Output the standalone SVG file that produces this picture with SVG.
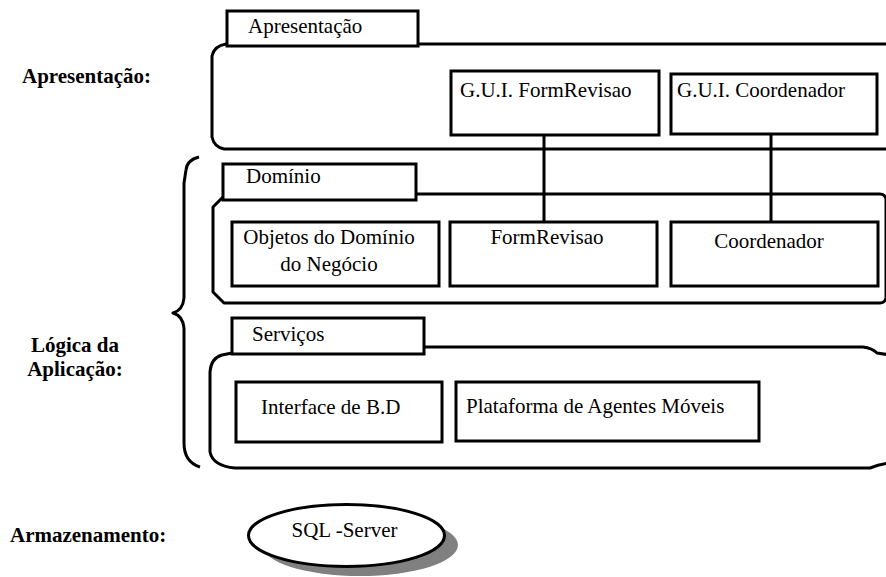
<svg xmlns="http://www.w3.org/2000/svg" width="886" height="577" viewBox="0 0 886 577">
<style>
.ln{fill:none;stroke:#000;stroke-width:3;stroke-linejoin:round}
.bx{fill:#fff;stroke:#000;stroke-width:3}
.t{font-family:"Liberation Serif","Times New Roman",serif;font-size:21px;fill:#000}
.b{font-family:"Liberation Serif","Times New Roman",serif;font-size:21px;font-weight:bold;fill:#000}
</style>
<rect width="886" height="577" fill="#fff"/>
<g id="labels">
<text class="b" x="22" y="83">Apresentação:</text>
<text class="b" x="75" y="352" text-anchor="middle">Lógica da</text>
<text class="b" x="75" y="376" text-anchor="middle">Aplicação:</text>
<text class="b" x="10" y="542">Armazenamento:</text>
</g>
<g id="brace">
<path class="ln" d="M199,157 Q187,160 186,170 L184,183 V298 Q183,310 173,313 Q183,316 184,328 V443 Q184,462 200,467"/>
</g>
<g id="layer-apresentacao">
<path class="ln" d="M890,44 H226 Q214,46 212,56 V137 Q214,147 224,149 H890"/>
<rect class="bx" x="227" y="11" width="191" height="35"/>
<text class="t" x="248" y="33">Apresentação</text>
</g>
<g id="layer-dominio">
<path class="ln" d="M416,194 H880 Q885,194 886,199 V298 Q885,303 880,303 H224 L213,292 V207 L223,197"/>
<rect class="bx" x="223" y="164" width="193" height="36"/>
<text class="t" x="246" y="183">Domínio</text>
</g>
<g id="layer-servicos">
<path class="ln" d="M424,347 H863 Q872,348 877,353 L890,355 M890,463 Q880,464 870,468 H235 Q213,466 210,452 V372 Q211,358 222,355 L232,353"/>
<rect class="bx" x="232" y="318" width="192" height="36"/>
<text class="t" x="252" y="341">Serviços</text>
</g>
<g id="connectors">
<line class="ln" x1="544" y1="135" x2="544" y2="222"/>
<line class="ln" x1="771" y1="134" x2="771" y2="222"/>
</g>
<g id="gui-formrevisao">
<rect class="bx" x="451" y="71" width="208" height="64"/>
<text class="t" x="460" y="97">G.U.I. FormRevisao</text>
</g>
<g id="gui-coordenador">
<rect class="bx" x="671" y="74" width="206" height="60"/>
<text class="t" x="677" y="97">G.U.I. Coordenador</text>
</g>
<g id="objetos">
<rect class="bx" x="232" y="222" width="207" height="64"/>
<text class="t" x="329" y="244" text-anchor="middle">Objetos do Domínio</text>
<text class="t" x="329" y="271" text-anchor="middle">do Negócio</text>
</g>
<g id="formrevisao">
<rect class="bx" x="450" y="222" width="207" height="64"/>
<text class="t" x="547" y="244" text-anchor="middle">FormRevisao</text>
</g>
<g id="coordenador">
<rect class="bx" x="671" y="222" width="207" height="64"/>
<text class="t" x="769" y="248" text-anchor="middle">Coordenador</text>
</g>
<g id="interface-bd">
<rect class="bx" x="236" y="382" width="206" height="60"/>
<text class="t" x="261" y="414">Interface de B.D</text>
</g>
<g id="plataforma">
<rect class="bx" x="456" y="382" width="303" height="59"/>
<text class="t" x="466" y="413">Plataforma de Agentes Móveis</text>
</g>
<g id="sql-server">
<ellipse cx="360" cy="545" rx="98" ry="31" fill="#808080"/>
<ellipse cx="346.5" cy="535.5" rx="98" ry="31" fill="#fff" stroke="#000" stroke-width="3"/>
<text class="t" x="344.5" y="537" text-anchor="middle">SQL -Server</text>
</g>
</svg>
